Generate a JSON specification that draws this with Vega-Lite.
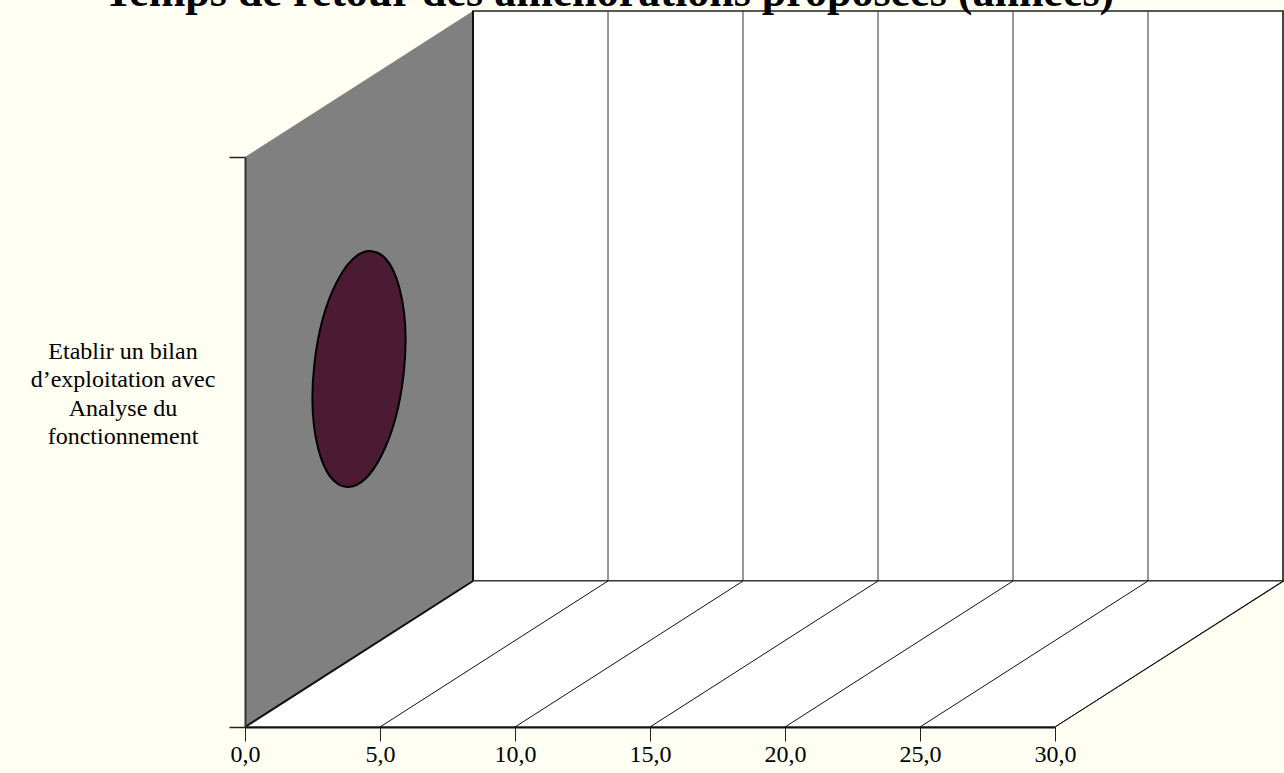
{
  "$schema": "https://vega.github.io/schema/vega-lite/v6.json",
  "width": 810,
  "height": 570,
  "autosize": {"type": "none"},
  "padding": {"left": 245, "top": 157, "right": 229, "bottom": 46},
  "background": "#FFFFF4",
  "config": {"view": {"stroke": null}, "font": "Liberation Serif"},
  "title": {
    "text": "Temps de retour des améliorations proposées (années)",
    "font": "Liberation Serif",
    "fontSize": 44,
    "fontWeight": "bold",
    "color": "black",
    "anchor": "middle",
    "frame": "group",
    "dx": -41,
    "dy": 43,
    "offset": 3,
    "baseline": "alphabetic"
  },
  "datasets": {
    "serie": [
      {"action": "Etablir un bilan\nd’exploitation avec\nAnalyse du\nfonctionnement", "temps": 0}
    ],
    "graduations": [
      {"v": 0}, {"v": 5}, {"v": 10}, {"v": 15}, {"v": 20}, {"v": 25}, {"v": 30}
    ]
  },
  "layer": [
    {
      "data": {"name": "serie"},
      "mark": {"type": "rect", "fill": "white", "stroke": "#222222", "strokeWidth": 1.5, "xOffset": 228, "x2Offset": 228, "yOffset": -146, "y2Offset": -146},
      "encoding": {
        "x": {
          "datum": 0, "type": "quantitative",
          "scale": {"domain": [0, 30], "nice": false, "zero": true},
          "axis": {
            "title": null, "values": [0, 5, 10, 15, 20, 25, 30],
            "labelExpr": "replace(format(datum.value, '.1f'), '.', ',')",
            "grid": false, "tickSize": 14, "tickColor": "#222222", "tickWidth": 1,
            "domainColor": "#111111", "domainWidth": 2,
            "labelFont": "Liberation Serif", "labelFontSize": 24, "labelColor": "black",
            "labelPadding": 1, "labelOverlap": false, "labelBound": false, "labelFlush": false,
            "zindex": 2
          }
        },
        "x2": {"datum": 30},
        "y": {
          "datum": 0, "type": "quantitative",
          "scale": {"domain": [0, 1], "nice": false, "zero": true},
          "axis": {
            "title": null, "values": [0, 1], "labels": false,
            "grid": false, "tickSize": 16, "tickColor": "#222222", "tickWidth": 1.5,
            "domainColor": "#333333", "domainWidth": 2, "zindex": 2
          }
        },
        "y2": {"datum": 1}
      }
    },
    {
      "data": {"name": "graduations"},
      "mark": {"type": "rule", "stroke": "#333333", "strokeWidth": 1, "xOffset": 228, "yOffset": -146, "y2Offset": -146},
      "encoding": {
        "x": {"field": "v", "type": "quantitative"},
        "y": {"datum": 0, "type": "quantitative"},
        "y2": {"datum": 1}
      }
    },
    {
      "data": {"name": "serie"},
      "mark": {"type": "point", "filled": true, "fill": "white", "opacity": 1, "stroke": "#222222", "strokeWidth": 1, "strokeOpacity": 1,
        "shape": "M -0.998,0.1404 L 0.5596,0.1404 L 1,-0.1404 L -0.5596,-0.1404 Z",
        "size": 1081600, "xOffset": 114, "yOffset": -73},
      "encoding": {
        "x": {"datum": 15, "type": "quantitative"},
        "y": {"datum": 0, "type": "quantitative"}
      }
    },
    {
      "data": {"name": "graduations"},
      "mark": {"type": "rule", "stroke": "#111111", "strokeWidth": 1, "x2Offset": 228, "y2Offset": -146},
      "encoding": {
        "x": {"field": "v", "type": "quantitative"},
        "x2": {"field": "v"},
        "y": {"datum": 0, "type": "quantitative"},
        "y2": {"datum": 0}
      }
    },
    {
      "data": {"name": "serie"},
      "mark": {"type": "point", "filled": true, "fill": "#808080", "opacity": 1, "strokeWidth": 0,
        "shape": "M -0.3184,1 L -0.3184,-0.5922 L 0.3184,-1 L 0.3184,0.5922 Z",
        "size": 512656, "xOffset": 114, "yOffset": -73},
      "encoding": {
        "x": {"datum": 0, "type": "quantitative"},
        "y": {"datum": 0.5, "type": "quantitative"}
      }
    },
    {
      "data": {"name": "serie"},
      "mark": {"type": "rule", "stroke": "#111111", "strokeWidth": 2, "x2Offset": 228, "y2Offset": -146},
      "encoding": {
        "x": {"datum": 0, "type": "quantitative"},
        "x2": {"datum": 0},
        "y": {"datum": 0, "type": "quantitative"},
        "y2": {"datum": 0}
      }
    },
    {
      "data": {"name": "serie"},
      "mark": {"type": "rule", "stroke": "#111111", "strokeWidth": 2, "xOffset": 228, "yOffset": -146, "y2Offset": -146},
      "encoding": {
        "x": {"datum": 0, "type": "quantitative"},
        "y": {"datum": 0, "type": "quantitative"},
        "y2": {"datum": 1}
      }
    },
    {
      "data": {"name": "serie"},
      "mark": {"type": "point", "filled": true, "fill": "#4B1A33", "opacity": 1, "stroke": "black", "strokeWidth": 2, "strokeOpacity": 1,
        "shape": "M 0,-1 C 0.2093,-1 0.379,-0.5523 0.379,0 C 0.379,0.5523 0.2093,1 0,1 C -0.2093,1 -0.379,0.5523 -0.379,0 C -0.379,-0.5523 -0.2093,-1 0,-1 Z",
        "size": 56169, "angle": 6.3, "xOffset": 114, "yOffset": -73},
      "encoding": {
        "x": {"field": "temps", "type": "quantitative"},
        "y": {"datum": 0.5, "type": "quantitative"}
      }
    },
    {
      "data": {"name": "serie"},
      "mark": {"type": "text", "font": "Liberation Serif", "fontSize": 24, "lineHeight": 28.5, "lineBreak": "\n", "align": "center", "baseline": "middle", "color": "black", "xOffset": -122},
      "encoding": {
        "x": {"datum": 0, "type": "quantitative"},
        "y": {"datum": 0.658, "type": "quantitative"},
        "text": {"field": "action", "type": "nominal"}
      }
    }
  ]
}
